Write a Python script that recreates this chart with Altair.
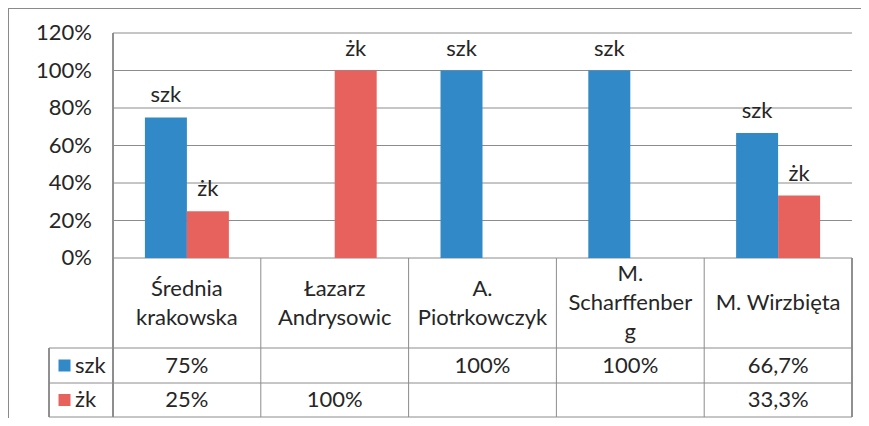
import altair as alt
import pandas as pd

categories = ["Średnia krakowska", "Łazarz Andrysowic", "A. Piotrkowczyk",
              "M. Scharffenberg", "M. Wirzbięta"]
cat_labels = ["Średnia\nkrakowska", "Łazarz\nAndrysowic", "A.\nPiotrkowczyk",
              "M.\nScharffenber\ng", "M. Wirzbięta"]
series_names = ["szk", "żk"]
szk_values = [0.75, None, 1.0, 1.0, 0.667]
zk_values = [0.25, 1.0, None, None, 0.333]
y_ticks = [0, 0.2, 0.4, 0.6, 0.8, 1.0, 1.2]
colors = ["#318AC7", "#E8625D"]

FONT = "Lato"
FS = 22
TXT = "#262626"
GRID = "#8C8C8C"
LH = 29

W, H = 853, 410            # whole page minus the 8px body margins
# geometry of the view (chart coordinates)
X0, X1 = 105, 844          # plot area left/right
YTOP, YBASE = 25, 250      # 120% and 0%
ROW1, ROW2, ROW3 = 340, 375, 409
TL = 41                    # table legend column left


def fmt(v):
    s = f"{v * 100:.1f}".rstrip("0").rstrip(".")
    return s.replace(".", ",") + "%"


rows = []
for s, vals in zip(series_names, [szk_values, zk_values]):
    for c, v in zip(categories, vals):
        rows.append({"cat": c, "series": s, "value": v,
                     "txt": fmt(v) if v is not None else ""})
df = pd.DataFrame(rows)
bars_df = df[df["value"].notna()].copy()

row_mid = (YBASE + ROW1) / 2
cat_df = pd.DataFrame({
    "cat": categories, "label": cat_labels,
    "ly": [row_mid - (lab.count("\n")) * LH / 2 for lab in cat_labels]})
tick_df = pd.DataFrame({"v": y_ticks, "lbl": [f"{int(round(t * 100))}%" for t in y_ticks]})
leg_df = pd.DataFrame({"series": series_names, "ypos": [(ROW1 + ROW2) / 2, (ROW2 + ROW3) / 2]})

xscale = alt.Scale(domain=categories, range=[X0, X1], paddingInner=0, paddingOuter=0)
yscale = alt.Scale(domain=[0, 1.2], range=[YBASE, YTOP], nice=False, zero=True)
cscale = alt.Scale(domain=series_names, range=colors)
X = alt.X("cat:N", scale=xscale, axis=None, sort=categories)
Y = alt.Y("value:Q", scale=yscale, axis=None)
XOFF = alt.XOffset("series:N", scale=alt.Scale(domain=series_names, paddingOuter=0.76, paddingInner=0))

# gridlines
grid = alt.Chart(tick_df).mark_rule(color=GRID, strokeWidth=1).encode(
    y=alt.Y("v:Q", scale=yscale, axis=None),
    x=alt.value(X0), x2=alt.value(X1))
tick_labels = alt.Chart(tick_df).mark_text(
    align="right", baseline="middle", font=FONT, fontSize=FS, color=TXT).encode(
    y=alt.Y("v:Q", scale=yscale, axis=None), x=alt.value(84), text="lbl:N")

bars = alt.Chart(bars_df).mark_bar().encode(
    x=X, xOffset=XOFF, y=Y,
    color=alt.Color("series:N", scale=cscale, legend=None))

bar_labels = alt.Chart(bars_df).mark_text(
    baseline="alphabetic", dy=-15, font=FONT, fontSize=FS, color=TXT).encode(
    x=X, xOffset=XOFF, y=Y, text="series:N")

# table lines
axis_line = alt.Chart(cat_df).mark_rule(color=GRID).encode(
    x=alt.value(X0), y=alt.value(YTOP), y2=alt.value(ROW3))
cat_lines = alt.Chart(cat_df).mark_rule(color=GRID).encode(
    x=alt.X("cat:N", scale=xscale, axis=None, sort=categories, bandPosition=0),
    y=alt.value(YBASE), y2=alt.value(ROW3))
right_line = alt.Chart(cat_df).mark_rule(color=GRID).encode(
    x=alt.value(X1), y=alt.value(YBASE), y2=alt.value(ROW3))
hlines = alt.Chart(pd.DataFrame({"yy": [ROW1, ROW2, ROW3]})).mark_rule(color=GRID).encode(
    y=alt.Y("yy:Q", scale=None), x=alt.value(TL), x2=alt.value(X1))
leg_left = alt.Chart(cat_df).mark_rule(color=GRID).encode(
    x=alt.value(TL), y=alt.value(ROW1), y2=alt.value(ROW3))

cat_text = alt.Chart(cat_df).mark_text(
    baseline="middle", lineBreak="\n", lineHeight=LH, font=FONT, fontSize=FS, color=TXT).encode(
    x=X, y=alt.Y("ly:Q", scale=None), text="label:N")

cell_layers = []
for s, ypos in zip(series_names, leg_df["ypos"]):
    cell_layers.append(
        alt.Chart(df[df["series"] == s]).mark_text(
            baseline="middle", font=FONT, fontSize=FS, color=TXT).encode(
            x=X, y=alt.value(float(ypos)), text="txt:N"))

leg_sq = alt.Chart(leg_df).mark_square(size=144, opacity=1, filled=True).encode(
    x=alt.value(56.5), y=alt.Y("ypos:Q", scale=None),
    color=alt.Color("series:N", scale=cscale, legend=None))
leg_txt = alt.Chart(leg_df).mark_text(
    align="left", baseline="middle", font=FONT, fontSize=FS, color=TXT).encode(
    x=alt.value(67), y=alt.Y("ypos:Q", scale=None), text="series:N")

frame_top = alt.Chart(cat_df).mark_rule(color="#8a8a8a", strokeWidth=2).encode(
    y=alt.value(0), x=alt.value(0), x2=alt.value(W))
frame_left = alt.Chart(cat_df).mark_rule(color="#8a8a8a", strokeWidth=2).encode(
    x=alt.value(0), y=alt.value(0), y2=alt.value(H))

chart = alt.layer(
    grid, tick_labels, bars, bar_labels, axis_line, cat_lines, right_line, hlines,
    leg_left, cat_text, *cell_layers, leg_sq, leg_txt, frame_top, frame_left
).properties(
    width=W, height=H, autosize="none", padding=0, background="white"
).configure_view(stroke=None)

chart.save("out.html", embed_options={"renderer": "svg", "actions": False})
